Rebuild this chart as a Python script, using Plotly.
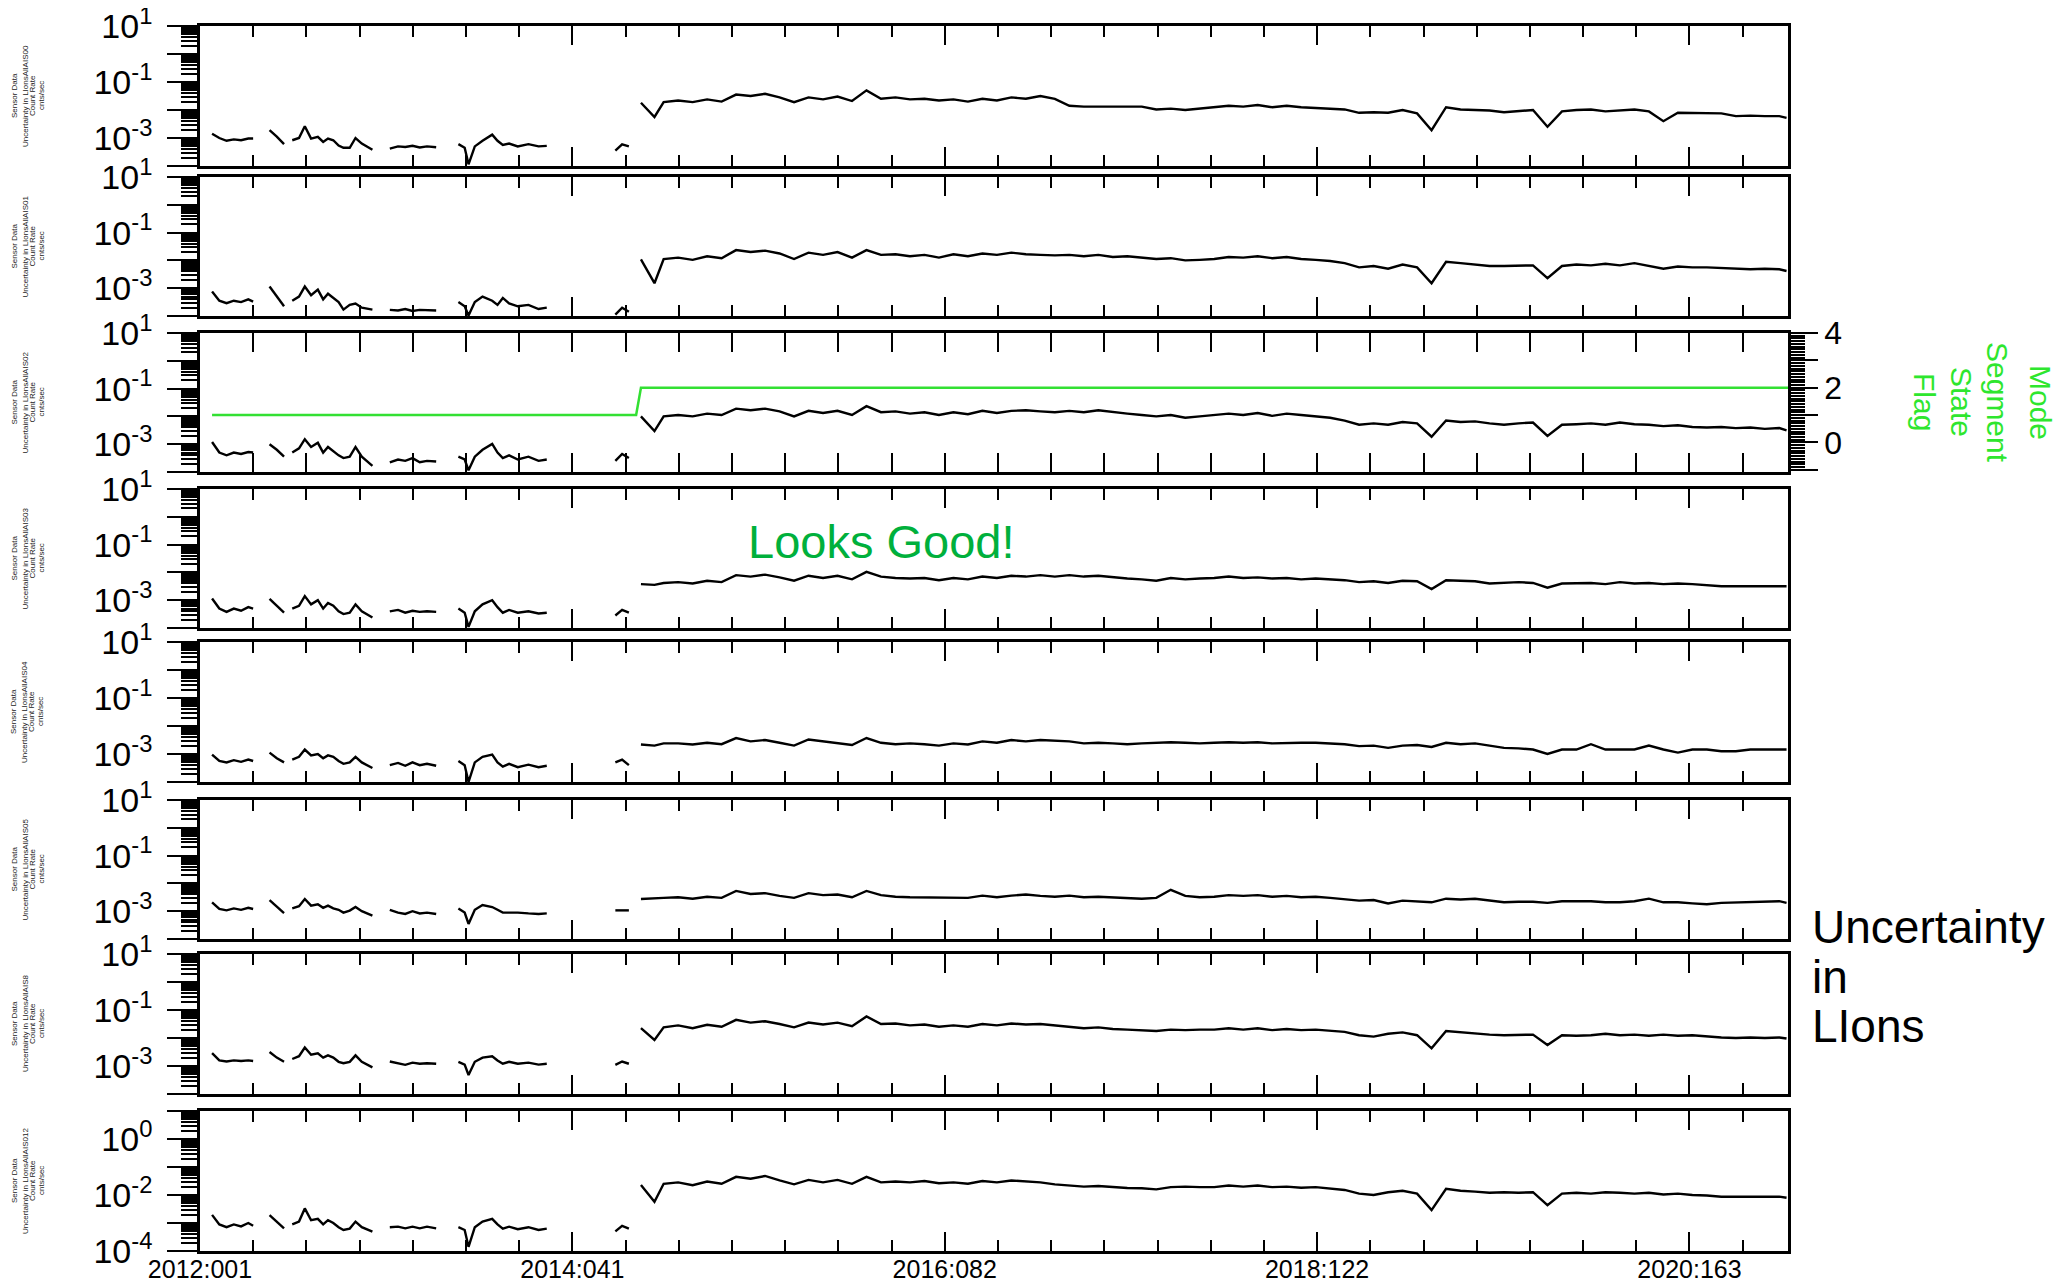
import plotly.graph_objects as go
from plotly.subplots import make_subplots
import pandas as pd

# time axis: days since 2012:001
start = pd.Timestamp("2012-01-01")
end = pd.Timestamp("2021-01-01")

days_early = [25, 40, 55, 70, 85, 100, 110, 127, 144, 159,
              174, 182, 191, 205, 217, 230, 244, 255, 265, 276,
              287, 297, 310, 322, 335, 357, 375, 393, 410, 425,
              440, 455, 470, 489, 512, 535, 548, 556, 569, 585,
              605, 616, 627, 640, 658, 680, 701, 718, 790, 860,
              874, 888, 900]
days_late = [913, 941, 960, 990, 1020, 1050, 1080, 1110, 1140, 1170,
             1200, 1230, 1260, 1290, 1320, 1350, 1380, 1410, 1440, 1470,
             1500, 1530, 1560, 1590, 1620, 1650, 1680, 1710, 1740, 1770,
             1800, 1830, 1860, 1890, 1920, 1950, 1980, 2010, 2040, 2070,
             2100, 2130, 2160, 2190, 2220, 2250, 2280, 2310, 2340, 2370,
             2400, 2430, 2460, 2490, 2520, 2550, 2580, 2610, 2640, 2670,
             2700, 2730, 2760, 2790, 2820, 2850, 2880, 2910, 2940, 2970,
             3000, 3030, 3060, 3090, 3120, 3150, 3180, 3210, 3240, 3270,
             3285]

# log10 of uncertainty (cnts/sec), None = no data
ais00_early = [-2.85, -3.00, -3.10, -3.05, -3.08, -3.02, -3.02, None, -2.72, -2.95,
               -3.22, None, -3.08, -3.00, -2.58, -3.02, -2.96, -3.14, -3.02, -3.08,
               -3.27, -3.35, -3.35, -3.00, -3.20, -3.42, None, -3.38, -3.30, -3.32,
               -3.28, -3.34, -3.30, -3.33, None, -3.22, -3.35, -3.94, -3.30, -3.10,
               -2.88, -3.10, -3.25, -3.20, -3.30, -3.22, -3.30, -3.28, None, -3.45,
               -3.23, -3.30, None]
ais00_late = [-1.74, -2.25, -1.72, -1.66, -1.72, -1.62, -1.70, -1.45, -1.50, -1.42,
              -1.55, -1.72, -1.55, -1.62, -1.52, -1.68, -1.30, -1.60, -1.55, -1.62,
              -1.60, -1.66, -1.62, -1.70, -1.60, -1.66, -1.55, -1.60, -1.50, -1.60,
              -1.85, -1.88, -1.88, -1.88, -1.90, -1.88, -1.98, -1.95, -2.00, -1.95,
              -1.90, -1.85, -1.88, -1.82, -1.90, -1.85, -1.90, -1.92, -1.95, -1.98,
              -2.10, -2.08, -2.10, -2.00, -2.12, -2.72, -1.90, -1.98, -2.00, -2.02,
              -2.08, -2.05, -2.00, -2.60, -2.05, -2.00, -1.98, -2.05, -2.02, -1.98,
              -2.05, -2.40, -2.10, -2.10, -2.10, -2.12, -2.22, -2.20, -2.22, -2.22,
              -2.28]

ais01_early = [-3.12, -3.45, -3.54, -3.45, -3.50, -3.40, -3.48, None, -2.94, -3.30,
               -3.65, None, -3.45, -3.30, -2.94, -3.25, -3.05, -3.40, -3.20, -3.35,
               -3.50, -3.77, -3.60, -3.55, -3.70, -3.77, None, -3.78, -3.80, -3.75,
               -3.82, -3.78, -3.80, -3.80, None, -3.50, -3.65, -3.98, -3.50, -3.30,
               -3.45, -3.60, -3.35, -3.55, -3.65, -3.60, -3.75, -3.70, None, -3.95,
               -3.70, -3.85, None]
ais01_late = [-1.96, -2.82, -1.95, -1.90, -1.98, -1.85, -1.92, -1.63, -1.70, -1.65,
              -1.75, -1.95, -1.72, -1.80, -1.70, -1.90, -1.63, -1.80, -1.78, -1.85,
              -1.80, -1.90, -1.78, -1.85, -1.75, -1.80, -1.72, -1.78, -1.80, -1.82,
              -1.80, -1.85, -1.80, -1.88, -1.85, -1.90, -1.95, -1.92, -2.00, -1.98,
              -1.95, -1.88, -1.90, -1.85, -1.92, -1.88, -1.95, -1.98, -2.02, -2.10,
              -2.25, -2.20, -2.30, -2.15, -2.25, -2.82, -2.05, -2.10, -2.15, -2.20,
              -2.20, -2.20, -2.18, -2.64, -2.20, -2.15, -2.18, -2.12, -2.18, -2.10,
              -2.20, -2.30, -2.22, -2.25, -2.25, -2.28, -2.30, -2.32, -2.30, -2.32,
              -2.38]

ais02_early = [-2.92, -3.30, -3.40, -3.30, -3.35, -3.28, -3.30, None, -3.00, -3.20,
               -3.45, None, -3.30, -3.15, -2.82, -3.10, -2.95, -3.30, -3.10, -3.25,
               -3.40, -3.50, -3.45, -3.10, -3.45, -3.78, None, -3.65, -3.55, -3.60,
               -3.50, -3.65, -3.60, -3.62, None, -3.45, -3.55, -3.94, -3.45, -3.20,
               -2.99, -3.30, -3.50, -3.40, -3.55, -3.45, -3.60, -3.55, None, -3.60,
               -3.35, -3.50, None]
ais02_late = [-2.00, -2.53, -2.00, -1.95, -2.00, -1.90, -1.95, -1.72, -1.78, -1.72,
              -1.82, -2.00, -1.80, -1.88, -1.80, -1.95, -1.63, -1.85, -1.82, -1.90,
              -1.85, -1.95, -1.85, -1.92, -1.80, -1.88, -1.80, -1.78, -1.82, -1.85,
              -1.80, -1.85, -1.78, -1.85, -1.90, -1.95, -2.00, -1.95, -2.05, -2.00,
              -1.95, -1.90, -1.95, -1.88, -1.98, -1.90, -1.95, -2.00, -2.05, -2.15,
              -2.30, -2.25, -2.30, -2.20, -2.25, -2.73, -2.15, -2.20, -2.18, -2.25,
              -2.30, -2.25, -2.22, -2.70, -2.30, -2.28, -2.25, -2.30, -2.22, -2.28,
              -2.30, -2.35, -2.32, -2.38, -2.40, -2.38, -2.42, -2.40, -2.45, -2.42,
              -2.50]

ais03_early = [-2.94, -3.30, -3.42, -3.30, -3.38, -3.25, -3.30, None, -2.95, -3.20,
               -3.45, None, -3.30, -3.20, -2.85, -3.15, -3.00, -3.30, -3.10, -3.20,
               -3.40, -3.50, -3.45, -3.15, -3.40, -3.62, None, -3.40, -3.35, -3.45,
               -3.38, -3.42, -3.40, -3.42, None, -3.30, -3.45, -3.96, -3.40, -3.15,
               -3.00, -3.25, -3.45, -3.35, -3.45, -3.40, -3.48, -3.45, None, -3.55,
               -3.35, -3.45, None]
ais03_late = [-2.42, -2.45, -2.38, -2.35, -2.40, -2.30, -2.35, -2.10, -2.15, -2.08,
              -2.18, -2.30, -2.12, -2.20, -2.12, -2.25, -1.98, -2.15, -2.20, -2.22,
              -2.20, -2.28, -2.20, -2.25, -2.15, -2.20, -2.12, -2.15, -2.10, -2.15,
              -2.10, -2.15, -2.12, -2.18, -2.22, -2.25, -2.30, -2.20, -2.25, -2.22,
              -2.20, -2.15, -2.20, -2.18, -2.22, -2.20, -2.25, -2.22, -2.25, -2.28,
              -2.35, -2.32, -2.38, -2.30, -2.32, -2.60, -2.28, -2.30, -2.32, -2.40,
              -2.38, -2.35, -2.38, -2.55, -2.40, -2.40, -2.38, -2.42, -2.35, -2.40,
              -2.38, -2.42, -2.40, -2.42, -2.45, -2.50, -2.50, -2.50, -2.50, -2.50,
              -2.50]

ais04_early = [-3.02, -3.25, -3.30, -3.22, -3.28, -3.20, -3.25, None, -2.95, -3.15,
               -3.30, None, -3.20, -3.10, -2.84, -3.05, -3.00, -3.15, -3.05, -3.10,
               -3.25, -3.35, -3.30, -3.10, -3.30, -3.50, None, -3.40, -3.32, -3.42,
               -3.30, -3.40, -3.35, -3.42, None, -3.25, -3.40, -4.00, -3.30, -3.10,
               -3.02, -3.30, -3.45, -3.35, -3.47, -3.38, -3.47, -3.42, None, -3.30,
               -3.20, -3.40, None]
ais04_late = [-2.66, -2.70, -2.62, -2.62, -2.66, -2.60, -2.65, -2.43, -2.55, -2.50,
              -2.60, -2.70, -2.48, -2.55, -2.60, -2.68, -2.43, -2.60, -2.65, -2.62,
              -2.65, -2.70, -2.62, -2.66, -2.55, -2.60, -2.50, -2.55, -2.50, -2.52,
              -2.55, -2.62, -2.60, -2.62, -2.65, -2.62, -2.60, -2.58, -2.60, -2.62,
              -2.60, -2.58, -2.60, -2.58, -2.62, -2.60, -2.60, -2.60, -2.62, -2.65,
              -2.72, -2.70, -2.78, -2.70, -2.68, -2.75, -2.60, -2.65, -2.62, -2.70,
              -2.78, -2.80, -2.84, -3.00, -2.84, -2.84, -2.65, -2.84, -2.84, -2.84,
              -2.70, -2.84, -2.95, -2.84, -2.84, -2.90, -2.90, -2.84, -2.84, -2.84,
              -2.84]

ais05_early = [-2.68, -2.92, -2.97, -2.90, -2.95, -2.88, -2.92, None, -2.60, -2.85,
               -3.07, None, -2.90, -2.82, -2.56, -2.80, -2.75, -2.88, -2.80, -2.90,
               -2.95, -3.05, -2.98, -2.85, -3.00, -3.16, None, -2.95, -3.05, -3.10,
               -3.00, -3.08, -3.05, -3.10, None, -2.90, -3.05, -3.46, -2.95, -2.78,
               -2.85, -2.95, -3.05, -3.05, -3.05, -3.08, -3.10, -3.08, None, -2.97,
               -2.97, -2.97, None]
ais05_late = [-2.56, -2.55, -2.52, -2.50, -2.55, -2.48, -2.52, -2.27, -2.38, -2.35,
              -2.45, -2.52, -2.35, -2.42, -2.40, -2.50, -2.27, -2.42, -2.48, -2.50,
              -2.50, -2.52, -2.50, -2.52, -2.44, -2.50, -2.44, -2.40, -2.45, -2.48,
              -2.44, -2.50, -2.48, -2.50, -2.52, -2.55, -2.52, -2.23, -2.45, -2.50,
              -2.48, -2.42, -2.45, -2.42, -2.48, -2.45, -2.50, -2.48, -2.52, -2.56,
              -2.62, -2.60, -2.72, -2.62, -2.65, -2.68, -2.55, -2.58, -2.55, -2.62,
              -2.68, -2.66, -2.66, -2.70, -2.64, -2.64, -2.64, -2.68, -2.68, -2.64,
              -2.55, -2.68, -2.68, -2.72, -2.75, -2.70, -2.68, -2.68, -2.64, -2.64,
              -2.70]

ais8_early = [-2.54, -2.80, -2.84, -2.80, -2.82, -2.80, -2.82, None, -2.50, -2.70,
              -2.85, None, -2.75, -2.65, -2.34, -2.60, -2.55, -2.70, -2.62, -2.70,
              -2.85, -2.90, -2.85, -2.62, -2.85, -3.05, None, -2.84, -2.90, -2.96,
              -2.88, -2.92, -2.90, -2.92, None, -2.85, -2.95, -3.32, -2.85, -2.70,
              -2.65, -2.80, -2.92, -2.85, -2.92, -2.88, -2.95, -2.92, None, -2.96,
              -2.84, -2.92, None]
ais8_late = [-1.65, -2.07, -1.62, -1.55, -1.65, -1.53, -1.60, -1.35, -1.45, -1.40,
             -1.50, -1.62, -1.45, -1.52, -1.45, -1.58, -1.23, -1.50, -1.48, -1.55,
             -1.52, -1.60, -1.55, -1.60, -1.50, -1.55, -1.48, -1.52, -1.50, -1.55,
             -1.60, -1.65, -1.62, -1.68, -1.70, -1.72, -1.75, -1.70, -1.72, -1.70,
             -1.70, -1.65, -1.70, -1.65, -1.72, -1.68, -1.72, -1.70, -1.74, -1.78,
             -1.90, -1.95, -1.85, -1.80, -1.90, -2.37, -1.75, -1.80, -1.85, -1.88,
             -1.90, -1.90, -1.88, -2.25, -1.90, -1.92, -1.90, -1.85, -1.90, -1.88,
             -1.92, -1.88, -1.92, -1.90, -1.95, -1.98, -2.00, -1.98, -2.00, -1.98,
             -2.02]

ais012_early = [-2.71, -3.05, -3.15, -3.05, -3.12, -3.00, -3.10, None, -2.72, -2.95,
                -3.19, None, -3.05, -2.95, -2.48, -2.90, -2.85, -3.05, -2.90, -3.00,
                -3.15, -3.25, -3.20, -2.95, -3.15, -3.31, None, -3.15, -3.13, -3.19,
                -3.13, -3.19, -3.13, -3.19, None, -3.15, -3.25, -3.85, -3.15, -2.95,
                -2.85, -3.05, -3.20, -3.13, -3.22, -3.15, -3.25, -3.20, None, -3.30,
                -3.10, -3.20, None]
ais012_late = [-1.64, -2.24, -1.60, -1.55, -1.65, -1.52, -1.60, -1.35, -1.42, -1.32,
               -1.48, -1.62, -1.46, -1.55, -1.46, -1.60, -1.35, -1.55, -1.52, -1.55,
               -1.50, -1.58, -1.55, -1.60, -1.50, -1.55, -1.48, -1.52, -1.55, -1.62,
               -1.65, -1.70, -1.68, -1.72, -1.75, -1.76, -1.80, -1.72, -1.70, -1.72,
               -1.72, -1.66, -1.70, -1.66, -1.72, -1.70, -1.74, -1.72, -1.76, -1.82,
               -1.95, -2.00, -1.90, -1.85, -1.95, -2.54, -1.78, -1.85, -1.88, -1.92,
               -1.90, -1.92, -1.90, -2.36, -1.95, -1.92, -1.95, -1.90, -1.92, -1.95,
               -1.92, -1.98, -1.95, -2.00, -2.02, -2.06, -2.06, -2.05, -2.06, -2.06,
               -2.10]

# mode segment state flag (panel 3, right axis)
flag_days = [25, 903, 913, 3288]
flag_values = [1, 1, 2, 2]

panels = [
    ("AllAIS00", ais00_early, ais00_late),
    ("AllAIS01", ais01_early, ais01_late),
    ("AllAIS02", ais02_early, ais02_late),
    ("AllAIS03", ais03_early, ais03_late),
    ("AllAIS04", ais04_early, ais04_late),
    ("AllAIS05", ais05_early, ais05_late),
    ("AllAIS8", ais8_early, ais8_late),
    ("AllAIS012", ais012_early, ais012_late),
]

tick_dates = ["2012-01-01", "2014-02-10", "2016-03-22", "2018-05-02", "2020-06-11"]
tick_labels = ["2012:001", "2014:041", "2016:082", "2018:122", "2020:163"]


def to_dates(days):
    return [start + pd.Timedelta(days=d) for d in days]


# page body has an 8px margin, so the figure is shifted by that
OFF = 8
W, H = 2062 - 2 * OFF, 1281 - OFF
tops = [26, 177, 333, 489, 642, 800, 954, 1111]
bottoms = [166, 316, 472, 628, 782, 939, 1094, 1251]
frame_left, frame_right = 200, 1788
font = "Liberation Sans, Arial, sans-serif"

L = frame_left - OFF
R = W - (frame_right - OFF)
pw = W - L - R


def px_x(px):
    return (px - OFF - L) / pw


def px_y(py):
    return 1 - (py - OFF) / H


specs = [[{}], [{}], [{"secondary_y": True}], [{}], [{}], [{}], [{}], [{}]]
fig = make_subplots(rows=8, cols=1, shared_xaxes=True, specs=specs, vertical_spacing=0.01)

x_all = to_dates(days_early + days_late)
for i, (name, early, late) in enumerate(panels):
    vals = early + late
    y = [None if v is None else 10 ** v for v in vals]
    fig.add_trace(go.Scatter(x=x_all, y=y, mode="lines",
                             line=dict(color="black", width=2.4),
                             showlegend=False, name=name),
                  row=i + 1, col=1, secondary_y=False if i == 2 else None)

fig.add_trace(go.Scatter(x=to_dates(flag_days), y=flag_values, mode="lines",
                         line=dict(color="#33e033", width=2.5), showlegend=False),
              row=3, col=1, secondary_y=True)

minor_ms = 771 / 7 * 86400000
fig.update_xaxes(type="date", range=[start, end], domain=[0, 1], tickmode="array",
                 tickvals=tick_dates, ticktext=tick_labels,
                 ticks="inside", ticklen=19, tickwidth=2, tickcolor="black",
                 mirror="allticks", showline=True, linecolor="black", linewidth=2.5,
                 showgrid=False, zeroline=False, automargin=False,
                 ticklabelstandoff=-6,
                 tickfont=dict(size=25, color="black", family=font),
                 minor=dict(ticks="inside", ticklen=11, tickwidth=2, tickcolor="black",
                            dtick=minor_ms, tick0="2012-01-01", showgrid=False))

for i in range(8):
    r = i + 1
    if i == 7:
        ttext = ["10<sup>-4</sup>", "", "10<sup>-2</sup>", "", "10<sup>0</sup>", ""]
    else:
        ttext = ["", "10<sup>-3</sup>", "", "10<sup>-1</sup>", "", "10<sup>1</sup>"]
    fig.update_yaxes(row=r, col=1, secondary_y=False,
                     domain=[px_y(bottoms[i]), px_y(tops[i])],
                     type="log", range=[-4, 1], tickmode="array",
                     tickvals=[1e-4, 1e-3, 1e-2, 1e-1, 1, 10], ticktext=ttext,
                     ticks="outside", ticklen=30, tickwidth=2, tickcolor="black",
                     showline=True, mirror=True, linecolor="black", linewidth=2.5,
                     showgrid=False, zeroline=False, automargin=False,
                     ticklabelstandoff=8, ticklabeloverflow="allow",
                     tickfont=dict(size=34, color="black", family=font),
                     minor=dict(ticks="outside", ticklen=16, tickwidth=1.5,
                                tickcolor="black", dtick="D1", showgrid=False))

fig.update_yaxes(row=3, col=1, secondary_y=True, range=[-1.08, 4], tickmode="array",
                 tickvals=[-1, 0, 1, 2, 3, 4], ticktext=["", "0", "", "2", "", "4"],
                 ticks="outside", ticklen=27, tickwidth=2, tickcolor="black",
                 showline=True, linecolor="black", linewidth=2.5,
                 showgrid=False, zeroline=False, automargin=False,
                 ticklabeloverflow="allow",
                 tickfont=dict(size=32, color="black", family=font),
                 minor=dict(ticks="outside", ticklen=14, tickwidth=1.5,
                            tickcolor="black", dtick=0.1, showgrid=False))

annotations = []
# tiny stacked y titles, one rotated line each
title_cols = [14, 25, 32, 41]
for i, (name, _, _) in enumerate(panels):
    lines = ["Sensor Data", "Uncertainty in LIons" + name, "Count Rate", "cnts/sec"]
    yc = (tops[i] + bottoms[i]) / 2
    for line, cx in zip(lines, title_cols):
        annotations.append(dict(text=line, x=px_x(cx), y=px_y(yc), xref="paper", yref="paper",
                                xanchor="center", yanchor="middle", showarrow=False,
                                textangle=-90, font=dict(size=8, color="#222", family=font)))

annotations.append(dict(text="Looks Good!", x=px_x(881), y=px_y(542), xref="paper", yref="paper",
                        showarrow=False, font=dict(size=47, color="#00b03c", family=font)))
for word, cx in [("Mode", 2041), ("Segment", 1998), ("State", 1962), ("Flag", 1925)]:
    annotations.append(dict(text=word, x=px_x(cx), y=px_y(402), xref="paper", yref="paper",
                            xanchor="center", yanchor="middle", showarrow=False, textangle=90,
                            font=dict(size=30, color="#2ee62e", family=font)))
for word, py in [("Uncertainty", 927), ("in", 977), ("LIons", 1026)]:
    annotations.append(dict(text=word, x=px_x(1810), y=px_y(py), xref="paper", yref="paper",
                            xanchor="left", yanchor="middle", showarrow=False,
                            font=dict(size=46, color="black", family=font)))

fig.update_layout(width=W, height=H, template="none",
                  margin=dict(l=L, r=R, t=0, b=0, pad=0),
                  paper_bgcolor="white", plot_bgcolor="white",
                  font=dict(family=font, color="black"),
                  annotations=annotations, showlegend=False)

fig.write_html("out.html")
